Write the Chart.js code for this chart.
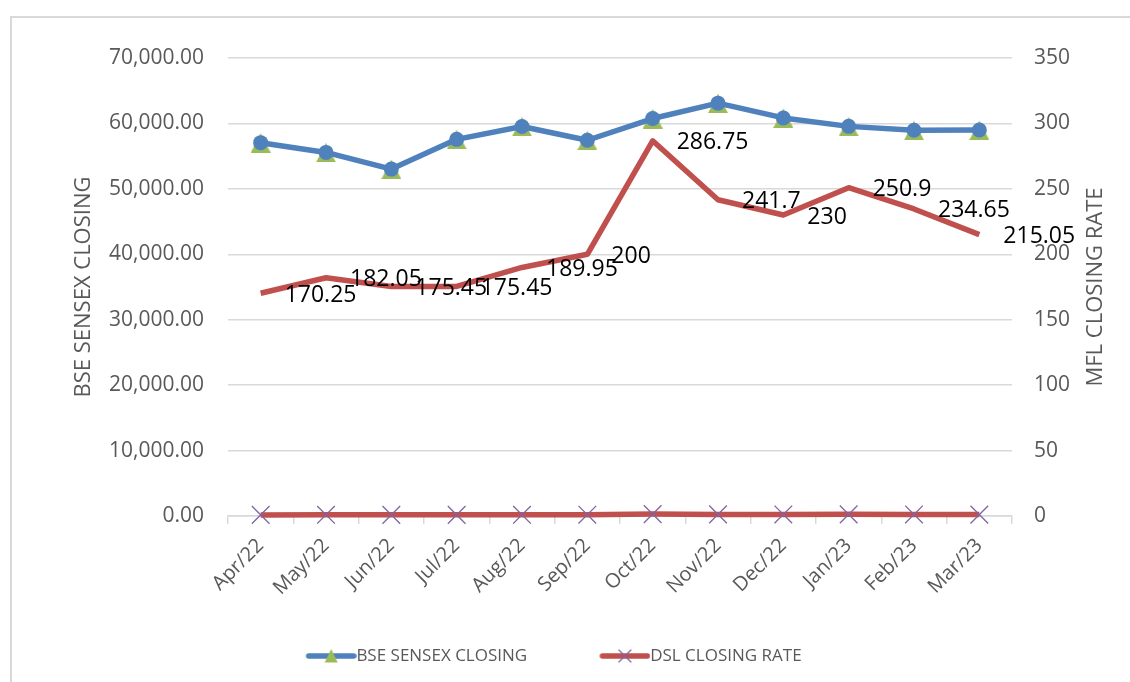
<!DOCTYPE html>
<html>
<head>
<meta charset="utf-8">
<script src="https://cdn.jsdelivr.net/npm/chart.js@4"></script>
<style>
  html, body { margin: 0; padding: 0; background: #fff; }
  #wrap { position: relative; width: 1130px; height: 682px; overflow: hidden; }
  #frame { position: absolute; left: 10px; top: 16px; width: 1200px; height: 800px;
           border-left: 2px solid #d9d9d9; border-top: 2px solid #d9d9d9; }
  canvas { position: absolute; left: 0; top: 0; }
</style>
</head>
<body>
<div id="wrap">
  <div id="frame"></div>
  <canvas id="sensexChart" width="1130" height="682"></canvas>
</div>
<script>
// data
const months = ["Apr/22", "May/22", "Jun/22", "Jul/22", "Aug/22", "Sep/22",
                "Oct/22", "Nov/22", "Dec/22", "Jan/23", "Feb/23", "Mar/23"];
const sensexClose = [57060, 55570, 53020, 57570, 59540, 57430, 60750, 63100, 60840, 59550, 58960, 58990];
const dslClose = [170.25, 182.05, 175.45, 175.45, 189.95, 200, 286.75, 241.7, 230, 250.9, 234.65, 215.05];
const seriesNames = ["BSE SENSEX CLOSING", "DSL CLOSING RATE"];
const axisTitles = ["BSE SENSEX CLOSING", "MFL CLOSING RATE"];
const leftMax = 70000, leftStep = 10000;
const rightMax = 350, rightStep = 50;

const BLUE = "#4F81BD", RED = "#C0504D", GREEN = "#9BBB59", PURPLE = "#8064A2";
const GREY = "#595959", GRID = "#d9d9d9";
const FONT = "'Open Sans', sans-serif";
Chart.defaults.font.family = FONT;

const LEGEND_FONT = 17;
const LEGEND_BOX = 77.5;
const LEGEND_PAD = 37;

const triangleImage = (color, w, h) => {
  const c = document.createElement("canvas");
  c.width = w; c.height = h;
  const g = c.getContext("2d");
  g.fillStyle = color;
  g.beginPath();
  g.moveTo(w / 2, 0.5); g.lineTo(w, h); g.lineTo(0, h);
  g.closePath(); g.fill();
  return c;
};

// legend symbol: line with marker, drawn at the right end of a wide box
const legendIcon = (kind) => {
  const W = Math.round(LEGEND_BOX + LEGEND_FONT), H = 22;
  const c = document.createElement("canvas");
  c.width = W; c.height = H;
  const g = c.getContext("2d");
  const x0 = W - 48, x1 = W - 3, cy = H / 2, mx = (x0 + x1) / 2;
  g.strokeStyle = kind === "tri" ? BLUE : RED;
  g.lineWidth = 5.5; g.lineCap = "round";
  g.beginPath(); g.moveTo(x0, cy); g.lineTo(x1, cy); g.stroke();
  if (kind === "tri") {
    g.fillStyle = GREEN;
    g.beginPath(); g.moveTo(mx, cy - 7); g.lineTo(mx + 6.5, cy + 6.5); g.lineTo(mx - 6.5, cy + 6.5);
    g.closePath(); g.fill();
  } else {
    g.strokeStyle = PURPLE; g.lineWidth = 1.2;
    g.beginPath();
    g.moveTo(mx - 6, cy - 6); g.lineTo(mx + 6, cy + 6);
    g.moveTo(mx + 6, cy - 6); g.lineTo(mx - 6, cy + 6);
    g.stroke();
  }
  return c;
};

const triMarker = triangleImage(GREEN, 20, 20);

const pointLabels = {
  id: "pointLabels",
  afterDatasetsDraw(chart) {
    const meta = chart.getDatasetMeta(3);
    const vals = chart.data.datasets[3].data;
    const ctx = chart.ctx;
    ctx.save();
    ctx.font = "23px " + FONT;
    ctx.fillStyle = "#000";
    ctx.textAlign = "left";
    ctx.textBaseline = "middle";
    meta.data.forEach((pt, i) => ctx.fillText(String(vals[i]), pt.x + 24, pt.y + 2));
    ctx.restore();
  }
};

const rightTitle = {
  id: "rightTitle",
  afterDraw(chart) {
    const s = chart.scales.y1;
    const ctx = chart.ctx;
    ctx.save();
    ctx.translate(s.left + 84, (chart.chartArea.top + chart.chartArea.bottom) / 2);
    ctx.rotate(-Math.PI / 2);
    ctx.font = "22px " + FONT;
    ctx.fillStyle = GREY;
    ctx.textAlign = "center";
    ctx.textBaseline = "middle";
    ctx.fillText(axisTitles[1], 0, 0);
    ctx.restore();
  }
};

new Chart(document.getElementById("sensexChart"), {
  type: "line",
  data: {
    labels: months,
    datasets: [
      {
        label: seriesNames[0],
        data: sensexClose,
        yAxisID: "y",
        borderColor: BLUE,
        backgroundColor: BLUE,
        borderWidth: 5.5,
        borderJoinStyle: "round",
        pointStyle: "circle",
        pointRadius: 7.5,
        pointBackgroundColor: BLUE,
        pointBorderWidth: 0,
        tension: 0,
        clip: false,
      },
      {
        label: seriesNames[0],
        data: sensexClose,
        yAxisID: "y",
        showLine: false,
        pointStyle: triMarker,
        pointRadius: 10,
        clip: false,
      },
      {
        label: seriesNames[1],
        data: dslClose,
        yAxisID: "y",
        borderColor: RED,
        borderWidth: 5.5,
        pointStyle: "crossRot",
        pointRadius: 12.5,
        pointBorderColor: PURPLE,
        pointBorderWidth: 1.3,
        tension: 0,
        clip: false,
      },
      {
        label: axisTitles[1],
        data: dslClose,
        yAxisID: "y1",
        borderColor: RED,
        borderWidth: 5.5,
        borderJoinStyle: "round",
        pointRadius: 0,
        tension: 0,
        clip: false,
      },
    ],
  },
  options: {
    responsive: false,
    animation: false,
    events: [],
    layout: { padding: { top: 58, left: 0, right: 58, bottom: 7.5 } },
    scales: {
      x: {
        offset: true,
        grid: { offset: true, drawOnChartArea: false, drawTicks: true, tickLength: 8, color: GRID, lineWidth: 1.5 },
        border: { display: true, color: GRID, width: 1.5 },
        ticks: { autoSkip: false, minRotation: 45, maxRotation: 45, color: GREY, font: { size: 20 }, padding: 10 },
        afterFit: (s) => { s.height = 94.5; },
      },
      y: {
        position: "left",
        min: 0,
        max: leftMax,
        grid: { color: GRID, lineWidth: 1.5, drawTicks: false },
        border: { display: false },
        ticks: {
          stepSize: leftStep,
          color: GREY,
          font: { size: 21 },
          padding: 24,
          callback: (v) => v.toLocaleString("en-US", { minimumFractionDigits: 2, maximumFractionDigits: 2 }),
        },
        title: { display: true, text: axisTitles[0], color: GREY, font: { size: 22 }, padding: { top: 70.8, bottom: 0 } },
        afterFit: (s) => { s.width = 228; },
      },
      y1: {
        position: "right",
        min: 0,
        max: rightMax,
        grid: { drawOnChartArea: false, drawTicks: false },
        border: { display: false },
        ticks: { stepSize: rightStep, color: GREY, font: { size: 21 }, padding: 22 },
        afterFit: (s) => { s.width = 60; },
      },
    },
    plugins: {
      tooltip: { enabled: false },
      legend: {
        position: "bottom",
        maxHeight: 64,
        labels: {
          usePointStyle: true,
          pointStyleWidth: LEGEND_BOX,
          padding: LEGEND_PAD,
          color: GREY,
          font: { size: LEGEND_FONT },
          generateLabels: () => [
            { text: seriesNames[0], pointStyle: legendIcon("tri"), fillStyle: BLUE, strokeStyle: BLUE, lineWidth: 0, fontColor: GREY, hidden: false, datasetIndex: 0 },
            { text: seriesNames[1], pointStyle: legendIcon("x"), fillStyle: RED, strokeStyle: RED, lineWidth: 0, fontColor: GREY, hidden: false, datasetIndex: 2 },
          ],
        },
      },
    },
  },
  plugins: [pointLabels, rightTitle],
});
</script>
</body>
</html>
